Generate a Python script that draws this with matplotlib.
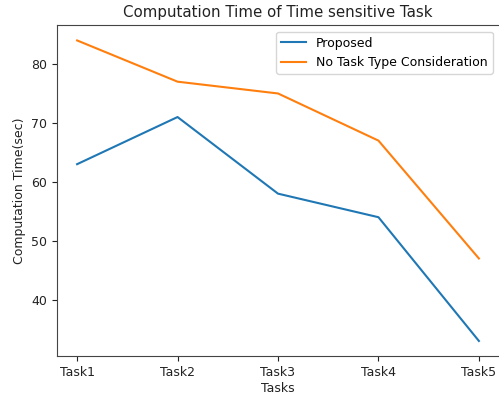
import matplotlib
matplotlib.use("Agg")
import matplotlib.pyplot as plt

tasks = ["Task1", "Task2", "Task3", "Task4", "Task5"]
proposed = [63, 71, 58, 54, 33]
no_task_type = [84, 77, 75, 67, 47]

fig = plt.figure(figsize=(4.99, 3.93), dpi=100)
ax = fig.add_axes([57/499, (393-356)/393, 442/499, 330.6/393])
ax.plot(tasks, proposed, color="#1f77b4", label="Proposed", lw=1.5)
ax.plot(tasks, no_task_type, color="#ff7f0e", label="No Task Type Consideration", lw=1.5)
ax.set_yticks([40, 50, 60, 70, 80])
ax.tick_params(labelsize=9, colors="#222222")
ax.set_xlabel("Tasks", fontsize=9, labelpad=2, color="#222222")
ax.set_ylabel("Computation Time(sec)", fontsize=9, color="#222222")
ax.set_title("Computation Time of Time sensitive Task", fontsize=10.8, color="#222222")
ax.spines["right"].set_visible(False)
for s in ["left", "bottom", "top"]:
    ax.spines[s].set_color("#444444")
ax.legend(loc="upper right", fontsize=9)
fig.savefig("out.png", dpi=100)
